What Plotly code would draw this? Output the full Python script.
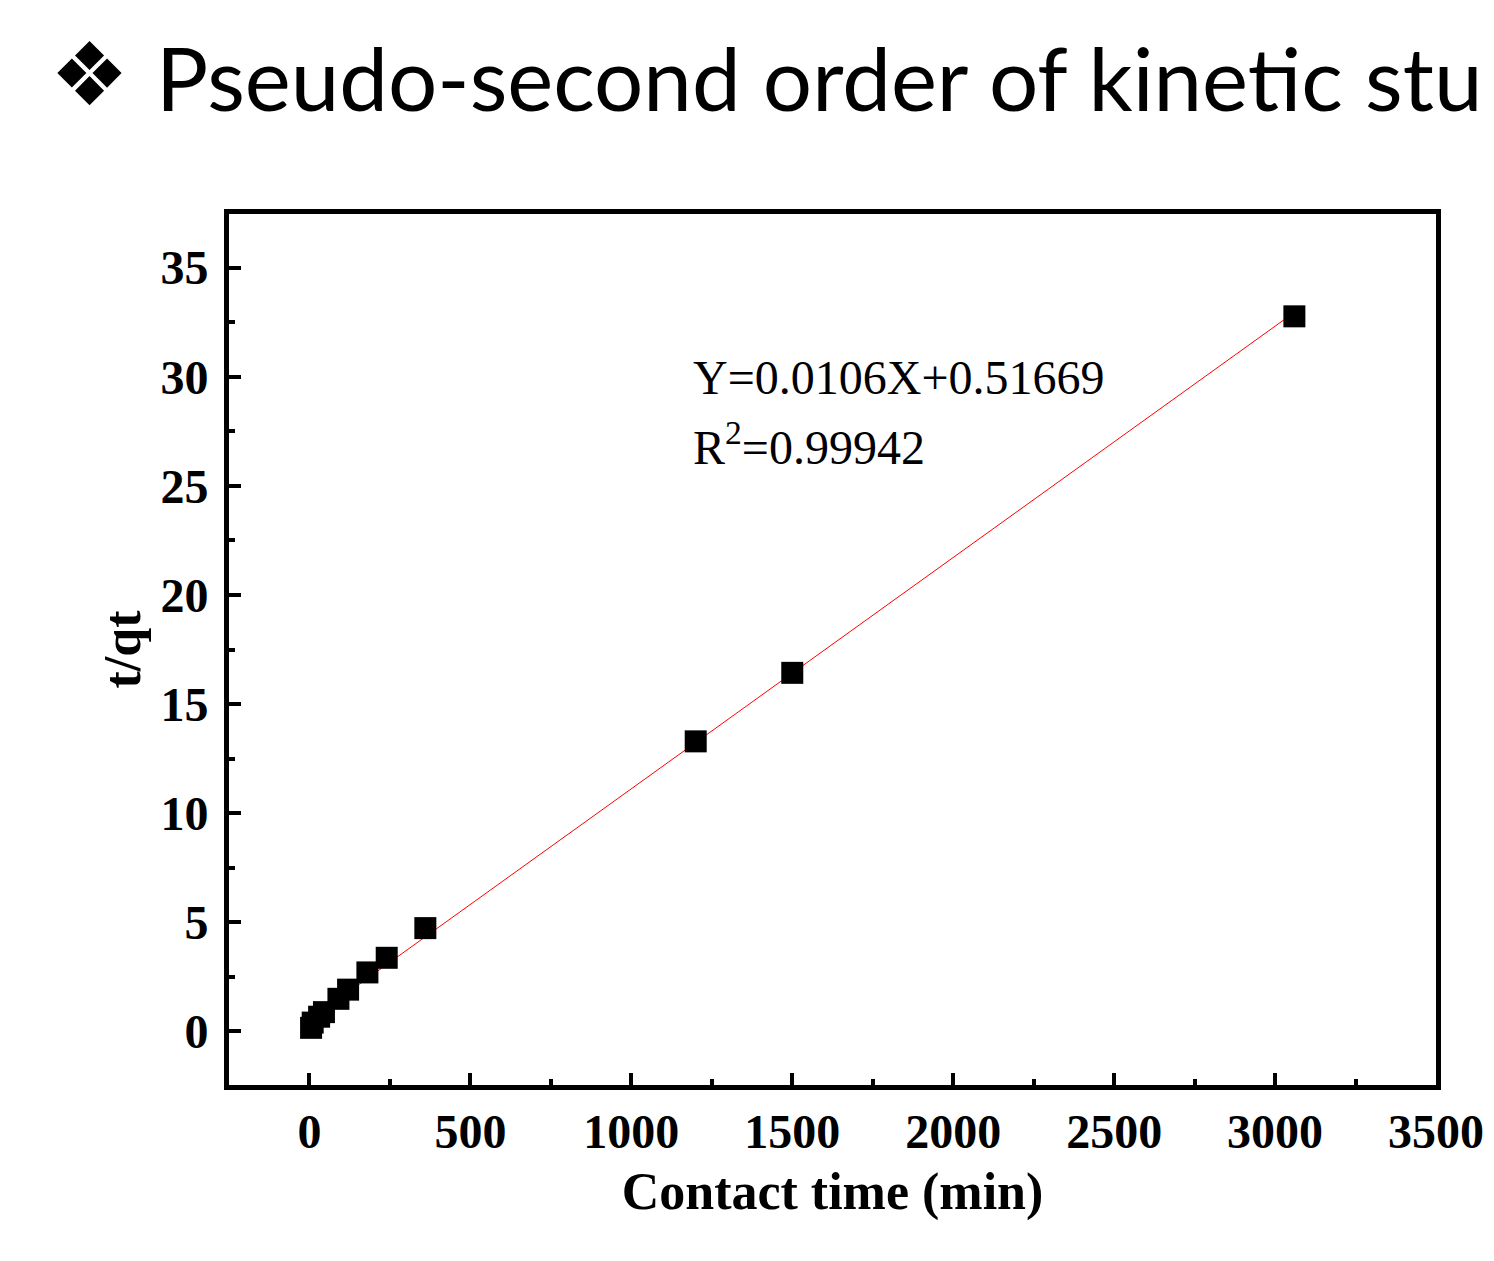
import plotly.graph_objects as go

# contact time (min) and t/qt
contact_time = [5, 10, 30, 45, 90, 120, 180, 240, 360, 1200, 1500, 3060]
t_over_qt = [0.16, 0.40, 0.67, 0.88, 1.49, 1.91, 2.70, 3.37, 4.73, 13.29, 16.43, 32.77]

# linear fit shown on the chart
slope = 0.0106
intercept = 0.51669
r_squared = 0.99942

x_ticks = [0, 500, 1000, 1500, 2000, 2500, 3000, 3500]
y_ticks = [0, 5, 10, 15, 20, 25, 30, 35]

serif = "Liberation Serif, Times New Roman, serif"

fit_x = [min(contact_time), max(contact_time)]
fit_y = [slope * x + intercept for x in fit_x]

L, R, T, B = 221, 66, 206, 184

fig = go.Figure()
fig.add_trace(go.Scatter(x=fit_x, y=fit_y, mode="lines",
                         line=dict(color="#ff0000", width=1), showlegend=False))
fig.add_trace(go.Scatter(x=contact_time, y=t_over_qt, mode="markers",
                         marker=dict(symbol="square", size=22, color="black",
                                     line=dict(width=0)),
                         showlegend=False))

axis_style = dict(showline=True, linewidth=5, linecolor="black", mirror=True,
                  ticks="inside", ticklen=12, tickwidth=4, tickcolor="black",
                  showgrid=False, zeroline=False,
                  tickfont=dict(family=serif, size=48, color="black", weight="bold"),
                  minor=dict(ticks="inside", ticklen=6, tickwidth=4, tickcolor="black"))

fig.update_xaxes(range=[-250, 3500], tickvals=x_ticks, ticklabelstandoff=0,
                 title=dict(text="Contact time (min)", standoff=18,
                            font=dict(family=serif, size=52, color="black", weight="bold")),
                 **axis_style)
fig.update_xaxes(minor_dtick=250)
fig.update_yaxes(range=[-2.46, 37.46], tickvals=y_ticks, ticklabelstandoff=6,
                 title=dict(text="t/qt", standoff=5,
                            font=dict(family=serif, size=52, color="black", weight="bold")),
                 **axis_style)
fig.update_yaxes(minor_dtick=2.5)

fig.add_annotation(x=1185, y=29.95, xref="x", yref="y", xanchor="left", yanchor="middle",
                   text=f"Y={slope}X+{intercept}", showarrow=False,
                   font=dict(family=serif, size=48, color="black"))
fig.add_annotation(x=1185, y=26.9, xref="x", yref="y", xanchor="left", yanchor="middle",
                   text=f"R<sup>2</sup>={r_squared}", showarrow=False,
                   font=dict(family=serif, size=48, color="black"))

# slide heading above the chart (positions given in pixels, converted below)
fig.add_annotation(x=40, y=66, xref="paper", yref="paper", xanchor="left", yanchor="middle",
                   text="❖", showarrow=False,
                   font=dict(family="DejaVu Sans", size=88, color="black"))
fig.add_annotation(x=146, y=70, xref="paper", yref="paper", xanchor="left", yanchor="middle",
                   text="Pseudo-second order of kinetic study", showarrow=False,
                   font=dict(family="Lato, Open Sans, sans-serif", size=87, color="black"))

fig.update_layout(width=1494, height=1261, plot_bgcolor="white", paper_bgcolor="white",
                  margin=dict(l=L, r=R, t=T, b=B))

pw = 1494 - L - R
ph = 1261 - T - B
for ann in fig.layout.annotations:
    if ann.xref == "paper":
        px_x, px_y = ann.x, ann.y
        ann.x = (px_x - L) / pw
        ann.y = (1261 - B - px_y) / ph

fig.write_html("out.html")
